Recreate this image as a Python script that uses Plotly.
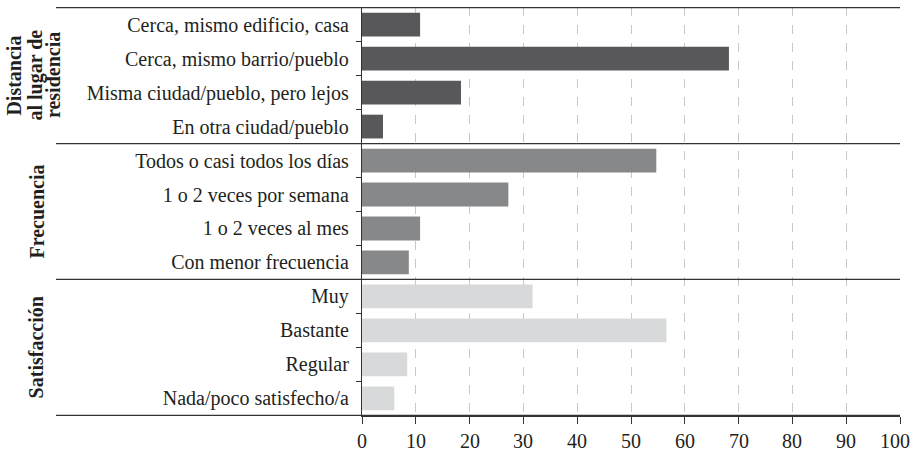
import plotly.graph_objects as go

categories = [
    "Cerca, mismo edificio, casa",
    "Cerca, mismo barrio/pueblo",
    "Misma ciudad/pueblo, pero lejos",
    "En otra ciudad/pueblo",
    "Todos o casi todos los días",
    "1 o 2 veces por semana",
    "1 o 2 veces al mes",
    "Con menor frecuencia",
    "Muy",
    "Bastante",
    "Regular",
    "Nada/poco satisfecho/a",
]
values = [10.8, 68.2, 18.4, 3.9, 54.7, 27.2, 10.8, 8.7, 31.7, 56.6, 8.4, 6.0]
groups = ["dist"] * 4 + ["freq"] * 4 + ["sat"] * 4
group_colors = {"dist": "#58585a", "freq": "#87888a", "sat": "#d8d9da"}
group_labels = [
    (["Distancia", "al lugar de", "residencia"], 1.5, [14, 36, 52.5]),
    (["Frecuencia"], 5.5, [36]),
    (["Satisfacción"], 9.5, [36]),
]
x_ticks = list(range(0, 101, 10))

FONT = "'Liberation Serif', 'DejaVu Serif', serif"
TXT = "#231f20"
W, H = 913, 457
L, R, T, B = 362, 13, 7, 41
PW = W - L - R


def px_to_paper(px):
    return (px - L) / PW


fig = go.Figure()
fig.add_trace(go.Bar(
    x=values,
    y=categories,
    orientation="h",
    marker=dict(color=[group_colors[g] for g in groups], line=dict(width=0)),
    hoverinfo="x+y",
))

shapes = []
left = px_to_paper(56)
for yb in [-0.5, 3.5, 7.5, 11.5]:
    shapes.append(dict(type="line", xref="paper", yref="y", x0=left, x1=1,
                       y0=yb, y1=yb, line=dict(color="#333333", width=1.3), layer="above"))

annotations = []
for lines, yc, xcs in group_labels:
    for t, xc in zip(lines, xcs):
        annotations.append(dict(
            text="<b>" + t + "</b>", x=px_to_paper(xc), y=yc, xref="paper", yref="y",
            textangle=-90, showarrow=False, xanchor="center", yanchor="middle",
            font=dict(family=FONT, size=20, color=TXT),
        ))
# x tick labels as annotations so the "100" at the right edge stays visible
for v in x_ticks:
    annotations.append(dict(
        text=str(v), x=v, y=0, xref="x", yref="paper", yshift=-25,
        xshift=-5 if v == x_ticks[-1] else 0,
        showarrow=False, xanchor="center", yanchor="middle",
        font=dict(family=FONT, size=20, color=TXT),
    ))

fig.update_layout(
    width=W, height=H,
    margin=dict(l=L, r=R, t=T, b=B, pad=0),
    paper_bgcolor="white", plot_bgcolor="white",
    showlegend=False,
    bargap=0.3,
    font=dict(family=FONT, size=20, color=TXT),
    shapes=shapes,
    annotations=annotations,
    xaxis=dict(
        range=[0, 100], tickvals=x_ticks, showticklabels=False,
        showgrid=True, gridcolor="#c8c8c8", griddash="dash", gridwidth=1,
        zeroline=False, showline=True, linecolor="#333333", linewidth=1.3,
        ticks="outside", ticklen=7, tickcolor="#333333", tickwidth=1.3,
        fixedrange=True,
    ),
    yaxis=dict(
        type="category", categoryorder="array", categoryarray=categories,
        autorange="reversed",
        showline=True, linecolor="#333333", linewidth=1.3,
        ticks="outside", tickson="boundaries", ticklen=5, tickcolor="#333333", tickwidth=1.3,
        ticklabelstandoff=8,
        tickfont=dict(family=FONT, size=20, color=TXT),
        showgrid=False, zeroline=False, fixedrange=True,
    ),
)

fig.write_html("out.html", config={"displayModeBar": False},
               post_script="document.body.style.margin='0';document.body.style.overflow='hidden';")
